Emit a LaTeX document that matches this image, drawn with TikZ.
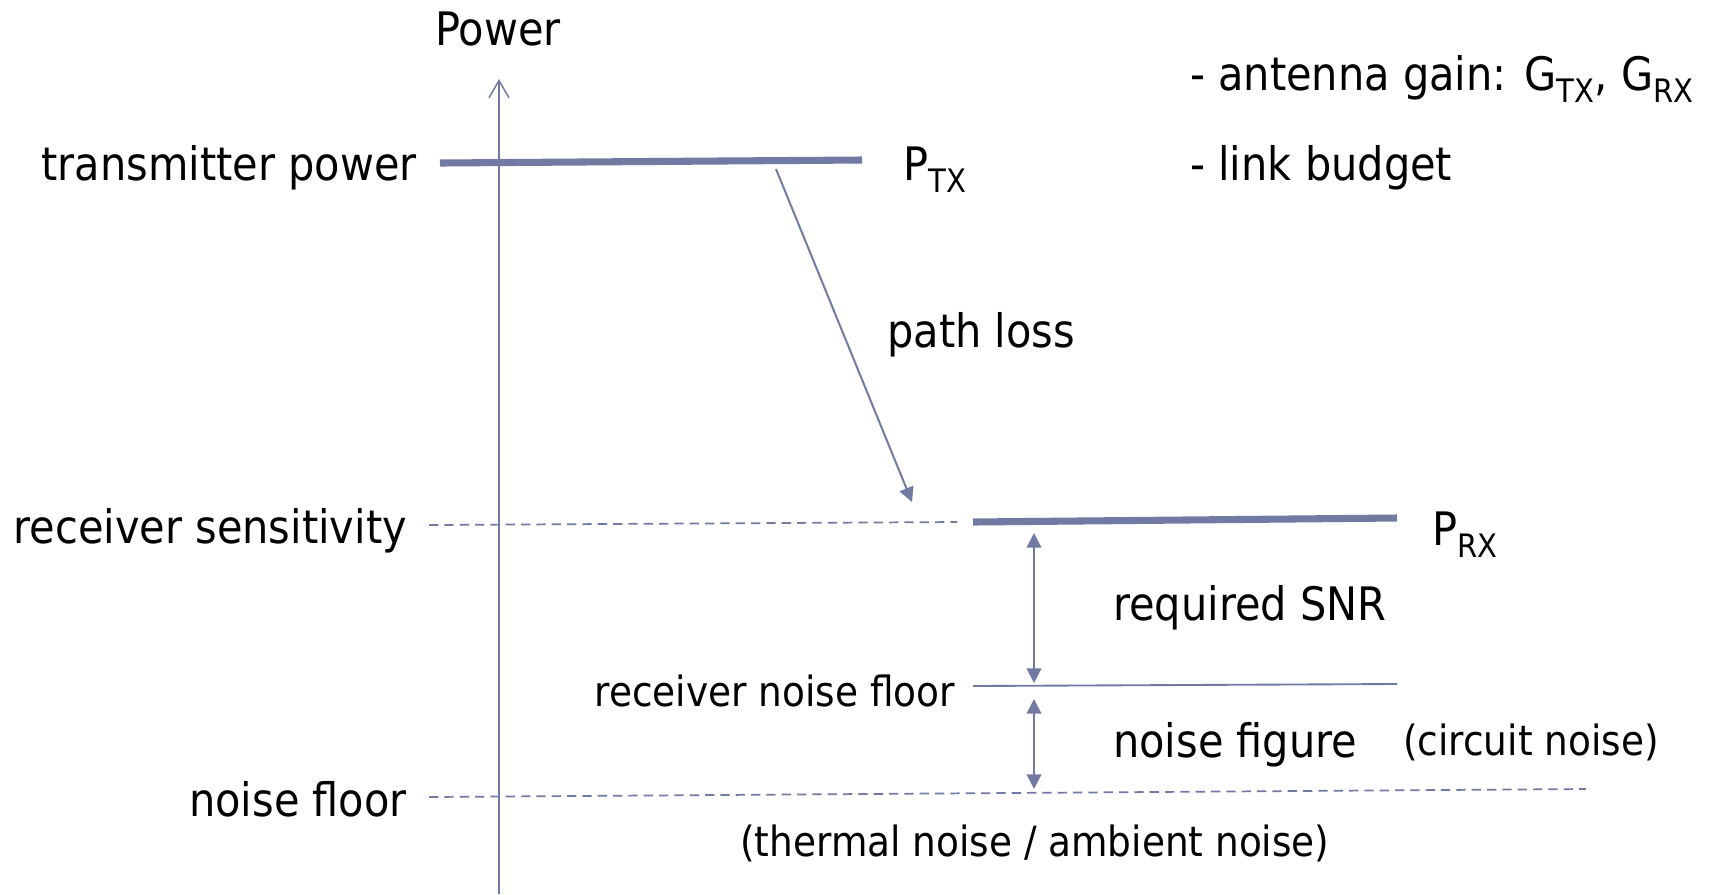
\documentclass[tikz,border=0pt]{standalone}
\usepackage{fontspec}
\setmainfont{DejaVu Sans Condensed}
\usetikzlibrary{arrows.meta}
\definecolor{budgetblue}{RGB}{112,122,163}
\tikzset{
  level/.style={draw=budgetblue, line width=5.3pt},
  floorline/.style={draw=budgetblue, line width=1.4pt},
  guide/.style={draw=budgetblue, line width=1.3pt, dash pattern=on 7pt off 4.5pt},
  gap/.style={draw=budgetblue, line width=1.5pt, <->},
  biglbl/.style={font=\fontsize{34.6}{40}\selectfont, inner sep=0pt},
  smalllbl/.style={font=\fontsize{31.2}{36}\selectfont, inner sep=0pt},
}

\begin{document}
\begin{tikzpicture}[x=0.75pt, y=-0.75pt, >={Triangle[length=11pt,width=11pt]}]
            \useasboundingbox (0,0) rectangle (1715,894);

            % axis
            \coordinate (axbot) at (499,894);
            \coordinate (axtop) at (499,79);
            \draw[budgetblue, line width=1.1pt, -{Straight Barb[length=13pt,width=15pt]}] (axbot) -- (axtop);
            \node[biglbl, anchor=base] (power) at (498,45) {Power};

            % transmitter
            \coordinate (tx1) at (440,163);
            \coordinate (tx2) at (862,160);
            \draw[level] (tx1) -- (tx2);
            \node[biglbl, anchor=base east] (txpower) at (417,180) {transmitter power};
            \node[biglbl, anchor=base west] (ptx) at (903,180) {P\textsubscript{TX}};

            % receiver
            \coordinate (rx1) at (973,522);
            \coordinate (rx2) at (1397,518);
            \coordinate (sens1) at (429,525);
            \coordinate (sens2) at (957,522);
            \draw[guide] (sens1) -- (sens2);
            \draw[level] (rx1) -- (rx2);
            \node[biglbl, anchor=base east] (rxsens) at (407,543) {receiver sensitivity};
            \node[biglbl, anchor=base west] (prx) at (1432,545) {P\textsubscript{RX}};

            % path loss
            \coordinate (pl1) at (776,169);
            \coordinate (pl2) at (912,502);
            \draw[budgetblue, line width=1.5pt, ->] (pl1) -- (pl2);
            \node[biglbl, anchor=base west] (ploss) at (887,347) {path loss};

            % noise floors
            \coordinate (rnf1) at (973,686);
            \coordinate (rnf2) at (1397,684);
            \draw[floorline] (rnf1) -- (rnf2);
            \node[smalllbl, anchor=base east] (rnflbl) at (955,706) {receiver noise floor};
            \coordinate (nf1) at (429,797);
            \coordinate (nf2) at (1586,789);
            \draw[guide] (nf1) -- (nf2);
            \node[biglbl, anchor=base east] (nflbl) at (407,816) {noise floor};
            \node[smalllbl, anchor=base west] (thermal) at (740,856) {(thermal noise / ambient noise)};

            % margins
            \coordinate (snr1) at (1034,533);
            \coordinate (snr2) at (1034,683);
            \draw[gap] (snr1) -- (snr2);
            \node[biglbl, anchor=base west] (snr) at (1113,620) {required SNR};
            \coordinate (nfig1) at (1034,699);
            \coordinate (nfig2) at (1034,789);
            \draw[gap] (nfig1) -- (nfig2);
            \node[biglbl, anchor=base west] (nfig) at (1113,757) {noise figure};
            \node[smalllbl, anchor=base west] (circuit) at (1403,755) {(circuit noise)};

            % notes
            \node[biglbl, anchor=base west] (gain) at (1190,90) {- antenna gain: G\textsubscript{TX}, G\textsubscript{RX}};
            \node[biglbl, anchor=base west] (budget) at (1190,180) {- link budget};

        \end{tikzpicture}
\end{document}
